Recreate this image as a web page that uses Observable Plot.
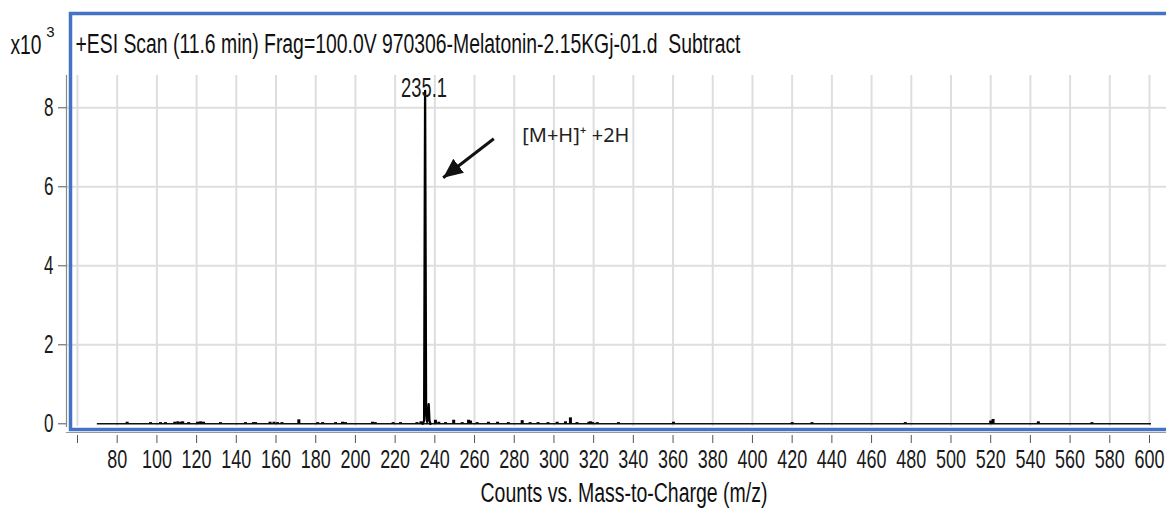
<!DOCTYPE html>
<html>
<head>
<meta charset="utf-8">
<script src="https://cdn.jsdelivr.net/npm/d3@7"></script>
<script src="https://cdn.jsdelivr.net/npm/@observablehq/plot@0.6"></script>
<style>
  html, body { margin: 0; padding: 0; background: #fff; }
</style>
</head>
<body>
<div id="chart"></div>
<script>
// ---- data (intensity in thousands of counts) ----
const titleText = "+ESI Scan (11.6 min) Frag=100.0V 970306-Melatonin-2.15KGj-01.d  Subtract";
const xLabel = "Counts vs. Mass-to-Charge (m/z)";
const xTicks = [60, 80, 100, 120, 140, 160, 180, 200, 220, 240, 260, 280, 300, 320, 340, 360, 380, 400, 420, 440, 460, 480, 500, 520, 540, 560, 580, 600];
const yTicks = [0, 2, 4, 6, 8];
const yGrid = [2, 4, 6, 8];
const scanRange = [70, 601];

// main peak profile
const mainMz = [233.9, 234.6, 235.1, 235.6, 236.1, 236.5, 236.9, 237.3, 237.8];
const mainI  = [0, 0.08, 8.43, 0.3, 0.05, 0.25, 0.5, 0.08, 0];
const peakLabel = "235.1";
const peakLabelMz = 235.1;
const peakLabelI = 8.43;

// noise peaks
const noiseMz = [85, 96.8, 101.8, 104.3, 109, 110.5, 112, 113, 116, 120.5, 122, 123.5, 132, 144.6, 148.6,
  149.7, 157, 159, 160.8, 163, 171.5, 181, 183.5, 190, 193.5, 195, 208.6, 210, 219, 222.7, 231, 233,
  240.3, 242, 245.4, 249.5, 253.8, 257, 258, 261.3, 267, 271.6, 277, 284, 288, 292, 297, 301.6, 305.8, 308.3, 311.6,
  317.6, 318.5, 319.5, 321.8, 332.5, 360.2, 420, 430, 477, 520, 521.2, 544, 571];
const noiseI = [0.04, 0.03, 0.03, 0.03, 0.04, 0.05, 0.04, 0.05, 0.03, 0.04, 0.05, 0.04, 0.03, 0.03, 0.03,
  0.03, 0.04, 0.04, 0.03, 0.03, 0.1, 0.03, 0.03, 0.03, 0.04, 0.03, 0.04, 0.03, 0.03, 0.03, 0.03, 0.05,
  0.09, 0.04, 0.03, 0.09, 0.03, 0.09, 0.07, 0.03, 0.04, 0.04, 0.03, 0.08, 0.03, 0.03, 0.03, 0.04, 0.05, 0.15, 0.03,
  0.04, 0.05, 0.03, 0.03, 0.03, 0.04, 0.03, 0.03, 0.03, 0.07, 0.11, 0.05, 0.03];

// annotation
const annText = "[M+H]\u207A +2H";
const annX = 284, annY = 7.3;
const arrowFrom = [269.7, 7.215];
const arrowTo = [244.2, 6.23];

const noise = noiseMz.map((m, i) => ({mz: m, i: noiseI[i]}));
const main = mainMz.map((m, i) => ({mz: m, i: mainI[i]}));

const sans = "'Liberation Sans', Arial, sans-serif";

function filledArrow(color) {
  const m = d3.create("svg:marker")
    .attr("viewBox", "-10 -5 10 10")
    .attr("markerWidth", 6.5)
    .attr("markerHeight", 6.5)
    .attr("orient", "auto")
    .attr("fill", color)
    .attr("stroke", "none");
  m.append("path").attr("d", "M-10,-4.5L0,0L-10,4.5Z");
  return m.node();
}

const chart = Plot.plot({
  width: 1166,
  height: 508,
  marginLeft: 66,
  marginRight: 0,
  marginTop: 75,
  marginBottom: 82,
  style: {fontFamily: sans, fontSize: "26px", color: "#1a1a1a", background: "#fff"},
  x: {domain: [80, 600], range: [116.7, 1149]},
  y: {domain: [0, 8], range: [423.3, 107.3]},
  marks: [
    Plot.gridX(xTicks, {stroke: "#dedede", strokeOpacity: 1, strokeWidth: 2}),
    Plot.gridY(yGrid, {stroke: "#dedede", strokeOpacity: 1, strokeWidth: 2}),
    Plot.frame({anchor: "left", stroke: "#888", strokeWidth: 1.2}),
    Plot.frame({anchor: "bottom", stroke: "#999", strokeWidth: 1.2, dy: 6}),
    Plot.frame({stroke: "#4472c4", strokeWidth: 3.5, insetTop: -62, insetLeft: 4, insetBottom: -3, insetRight: -10}),
    Plot.axisY(yTicks, {tickSize: 8, tickPadding: 5, stroke: "#555", label: null, fontSize: 26}),
    Plot.axisX(xTicks, {tickSize: 8, dy: 9, tickPadding: 6, stroke: "#555", label: null, fontSize: 26,
      tickFormat: d => d === 60 ? "" : d}),
    Plot.ruleY([0], {x1: scanRange[0], x2: scanRange[1], stroke: "#111", strokeWidth: 1.6}),
    Plot.ruleX(noise, {x: "mz", y1: 0, y2: "i", stroke: "#000", strokeWidth: 3}),
    Plot.line(main, {x: "mz", y: "i", stroke: "#000", strokeWidth: 2.3}),
    Plot.text([peakLabel], {x: () => peakLabelMz, y: () => peakLabelI, text: d => d, dy: -2, dx: -1, fontSize: 27, fill: "#1a1a1a"}),
    Plot.link([0], {x1: () => arrowFrom[0], y1: () => arrowFrom[1], x2: () => arrowTo[0], y2: () => arrowTo[1],
      stroke: "#111", strokeWidth: 3, markerEnd: filledArrow}),
    Plot.text([annText], {x: () => annX, y: () => annY, text: d => d, textAnchor: "start", fontFamily: "'Noto Sans', 'Open Sans', sans-serif", fontSize: 20, fill: "#222"}),
    Plot.text([titleText], {frameAnchor: "top-left", text: d => d, dx: 9, dy: -42, textAnchor: "start", fontSize: 27, fill: "#111"}),
    Plot.text(["x10"], {frameAnchor: "top-left", text: d => d, dx: -25, dy: -41, textAnchor: "end", fontSize: 27, fill: "#111"}),
    Plot.text(["3"], {frameAnchor: "top-left", text: d => d, dx: -16, dy: -49, textAnchor: "middle", fontSize: 15, fill: "#111"}),
    Plot.text([xLabel], {frameAnchor: "bottom", text: d => d, dx: 7.5, dy: 75, fontSize: 27, fill: "#111"})
  ]
});
document.getElementById("chart").appendChild(chart);

// condense glyphs horizontally (the original uses a narrow typeface)
function fitLength(nodes, lengthFn) {
  nodes.forEach(node => {
    const len = lengthFn(node.textContent);
    if (!(len > 0)) return;
    node.setAttribute("textLength", len);
    node.setAttribute("lengthAdjust", "spacingAndGlyphs");
  });
}
const allText = Array.from(chart.querySelectorAll("text"));
const byContent = s => allText.filter(n => n.textContent === s);
fitLength(Array.from(chart.querySelectorAll('g[aria-label="x-axis tick label"] text')), s => 10 * s.length);
fitLength(Array.from(chart.querySelectorAll('g[aria-label="y-axis tick label"] text')), s => 9.5 * s.length);
fitLength(byContent(titleText), () => 665);
fitLength(byContent(xLabel), () => 287);
fitLength(byContent(peakLabel), () => 46);
fitLength(byContent("x10"), () => 31);
</script>
</body>
</html>
